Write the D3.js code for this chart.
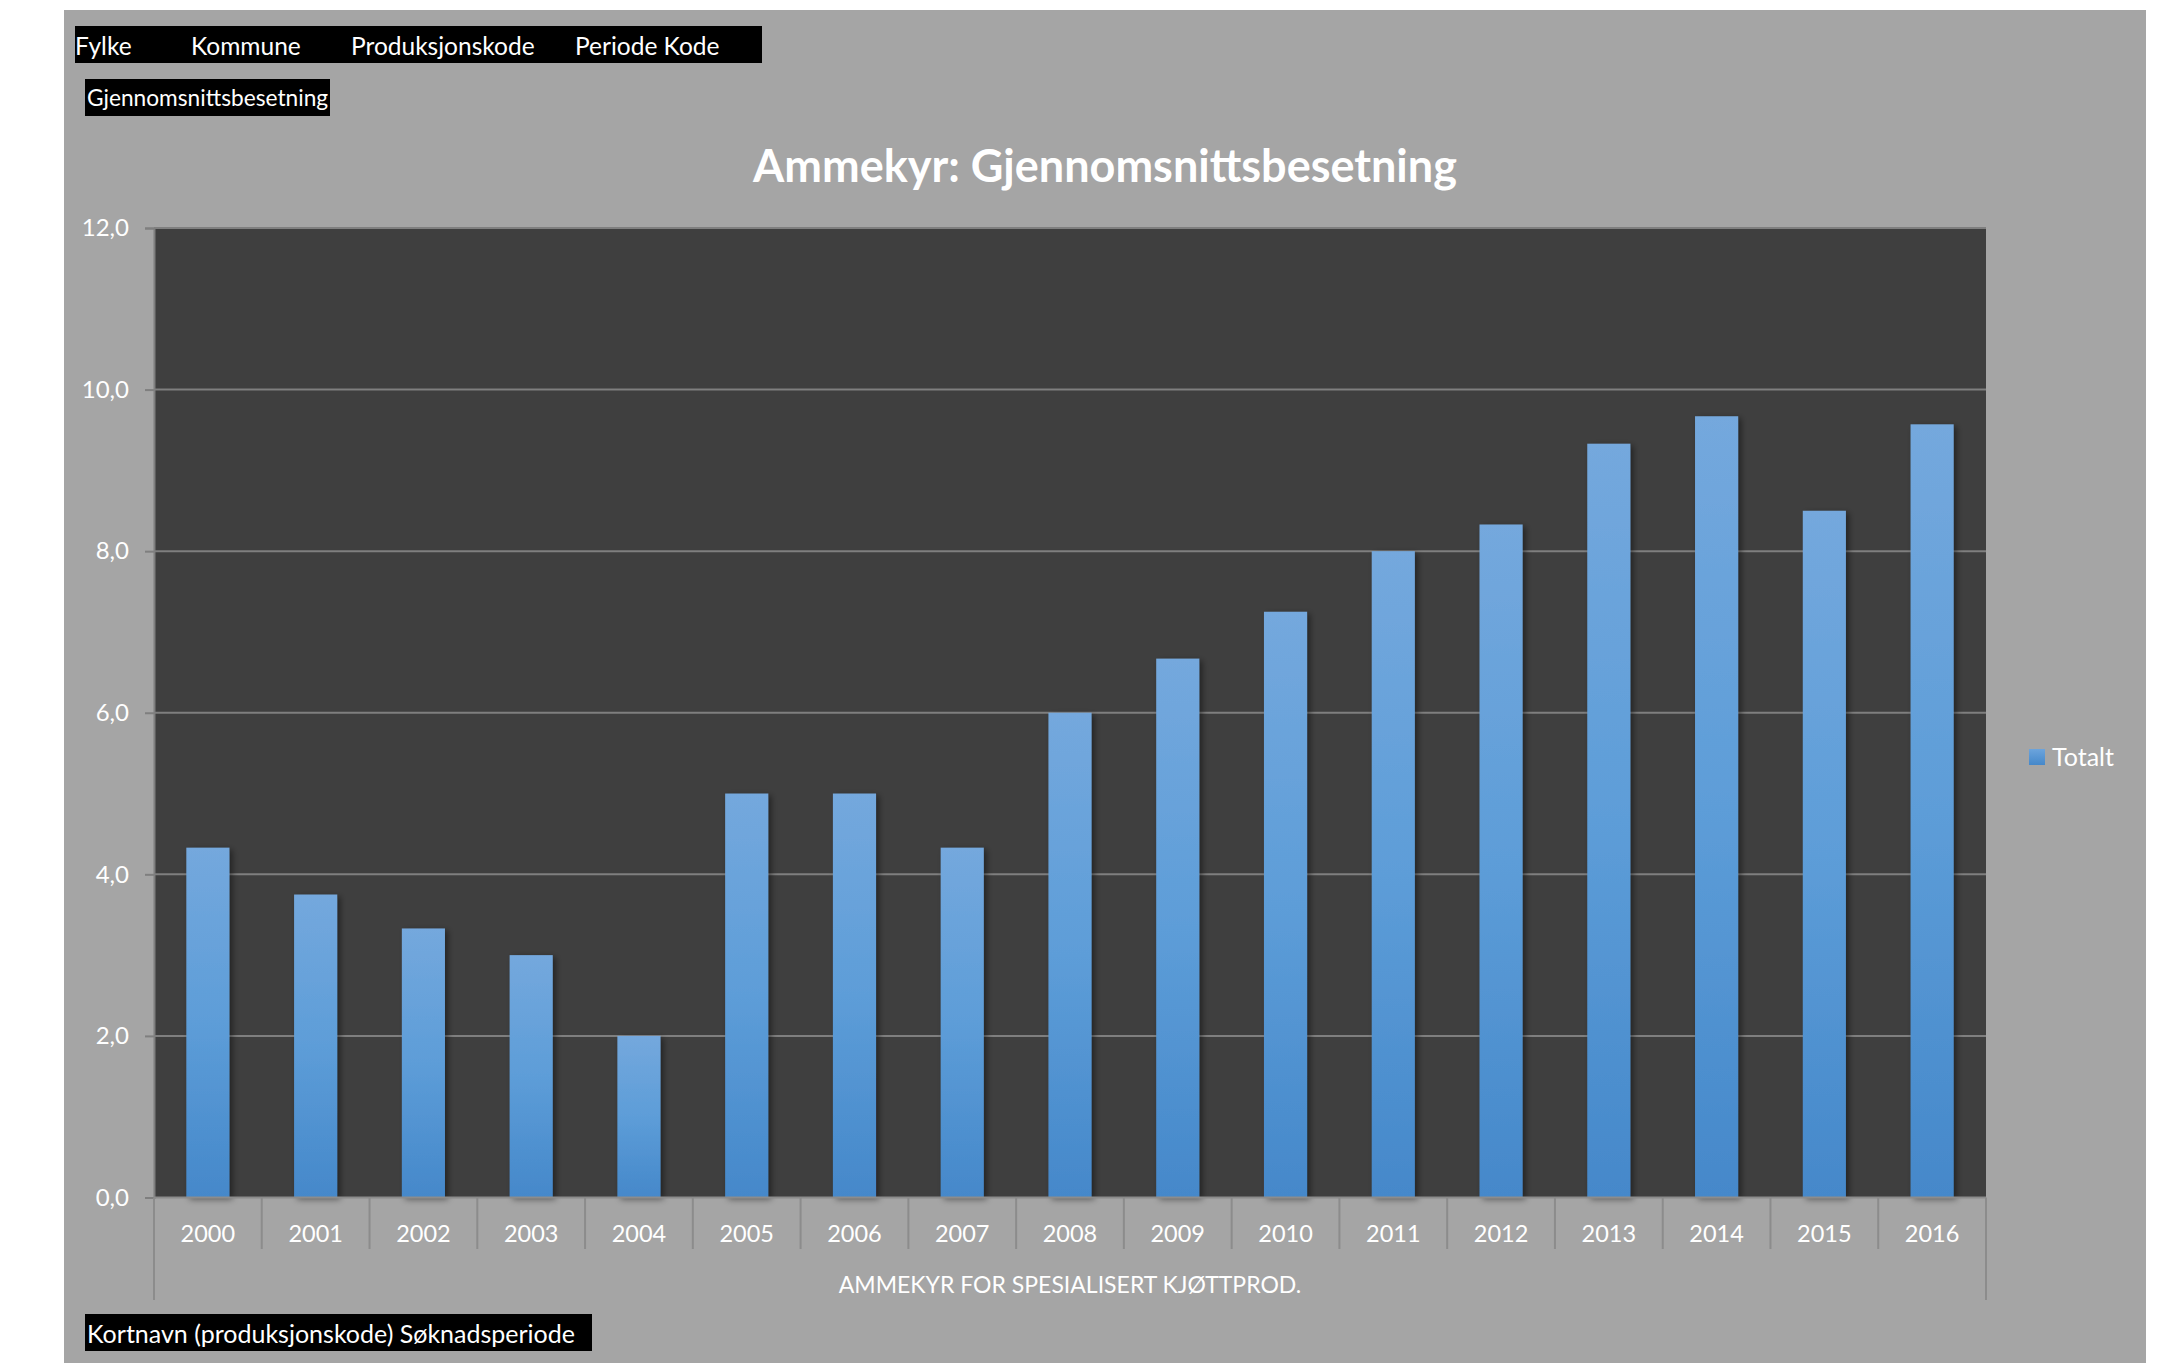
<!DOCTYPE html>
<html>
<head>
<meta charset="utf-8">
<script src="https://cdn.jsdelivr.net/npm/d3@7/dist/d3.min.js"></script>
<style>
  html, body { margin: 0; padding: 0; background: #ffffff; }
  svg { display: block; }
  text { font-family: Lato, "Open Sans", sans-serif; }
</style>
</head>
<body>
<svg id="chart" width="2175" height="1363"></svg>
<script>
// ---- data ----
const years = ["2000","2001","2002","2003","2004","2005","2006","2007","2008","2009","2010","2011","2012","2013","2014","2015","2016"];
const totalt = [4.33, 3.75, 3.33, 3.0, 2.0, 5.0, 5.0, 4.33, 6.0, 6.67, 7.25, 8.0, 8.33, 9.33, 9.67, 8.5, 9.57];
const yTicks = [0, 2, 4, 6, 8, 10, 12];
const headerFields = ["Fylke", "Kommune", "Produksjonskode", "Periode Kode"];
const valueField = "Gjennomsnittsbesetning";
const rowField = "Kortnavn (produksjonskode) Søknadsperiode";
const chartTitle = "Ammekyr: Gjennomsnittsbesetning";
const groupLabel = "AMMEKYR FOR SPESIALISERT KJØTTPROD.";
const seriesName = "Totalt";

// ---- layout ----
const svg = d3.select("#chart");
const area = { x0: 64, y0: 10, x1: 2146, y1: 1363 };
const plot = { left: 154, right: 1986, top: 228, bottom: 1197.5 };

const locale = d3.formatLocale({ decimal: ",", thousands: " ", grouping: [3], currency: ["", " kr"] });
const fmt = locale.format(".1f");

const defs = svg.append("defs");
const grad = defs.append("linearGradient").attr("id", "barGrad")
  .attr("x1", 0).attr("y1", 0).attr("x2", 0).attr("y2", 1);
grad.append("stop").attr("offset", "0%").attr("stop-color", "#74A8DD");
grad.append("stop").attr("offset", "50%").attr("stop-color", "#5D9DD8");
grad.append("stop").attr("offset", "100%").attr("stop-color", "#4588CA");
const lgrad = defs.append("linearGradient").attr("id", "legGrad")
  .attr("x1", 0).attr("y1", 0).attr("x2", 0).attr("y2", 1);
lgrad.append("stop").attr("offset", "0%").attr("stop-color", "#6CA4DC");
lgrad.append("stop").attr("offset", "100%").attr("stop-color", "#4588CA");
const shadow = defs.append("filter").attr("id", "shadow")
  .attr("x", "-30%").attr("y", "-10%").attr("width", "160%").attr("height", "120%");
shadow.append("feDropShadow").attr("dx", 3).attr("dy", 2).attr("stdDeviation", 3)
  .attr("flood-color", "#000").attr("flood-opacity", 0.45);

// chart area background
svg.append("rect")
  .attr("x", area.x0).attr("y", area.y0)
  .attr("width", area.x1 - area.x0).attr("height", area.y1 - area.y0)
  .attr("fill", "#A5A5A5");

// plot background
svg.append("rect")
  .attr("x", plot.left).attr("y", plot.top)
  .attr("width", plot.right - plot.left).attr("height", plot.bottom - plot.top)
  .attr("fill", "#3F3F3F");

// scales
const x = d3.scaleBand().domain(years).range([plot.left, plot.right]).paddingInner(0.6).paddingOuter(0.3);
const xCat = d3.scaleBand().domain(years).range([plot.left, plot.right]).padding(0);
const y = d3.scaleLinear().domain([0, 12]).range([plot.bottom, plot.top]);

// gridlines
svg.append("g").selectAll("line").data(yTicks.filter(d => d > 0)).join("line")
  .attr("x1", plot.left).attr("x2", plot.right)
  .attr("y1", d => y(d)).attr("y2", d => y(d))
  .attr("stroke", "#7F7F7F").attr("stroke-width", 2);

// bars
svg.append("g").selectAll("rect").data(years).join("rect")
  .attr("x", d => x(d))
  .attr("y", (d, i) => y(totalt[i]))
  .attr("width", x.bandwidth())
  .attr("height", (d, i) => y(0) - y(totalt[i]))
  .attr("fill", "url(#barGrad)")
  .attr("filter", "url(#shadow)");

// y axis
const yAxis = svg.append("g").attr("transform", `translate(${plot.left},0)`)
  .call(d3.axisLeft(y).tickValues(yTicks).tickFormat(fmt).tickSize(9).tickPadding(16));
yAxis.select(".domain").attr("stroke", "#7F7F7F").attr("stroke-width", 2);
yAxis.selectAll(".tick line").attr("stroke", "#7F7F7F").attr("stroke-width", 2);
yAxis.selectAll(".tick text").attr("fill", "#FFFFFF").attr("font-size", 24)
  .attr("font-family", "Lato, sans-serif");

// x axis line
svg.append("line")
  .attr("x1", plot.left).attr("x2", plot.right)
  .attr("y1", y(0)).attr("y2", y(0))
  .attr("stroke", "#8C8C8C").attr("stroke-width", 2);

// category separators
const seps = years.map(d => xCat(d)).concat([plot.right]);
svg.append("g").selectAll("line").data(seps).join("line")
  .attr("x1", d => d).attr("x2", d => d)
  .attr("y1", y(0)).attr("y2", (d, i) => (i === 0 || i === seps.length - 1) ? 1300 : 1249)
  .attr("stroke", "#8C8C8C").attr("stroke-width", 2);

// x tick labels
svg.append("g").selectAll("text").data(years).join("text")
  .attr("x", d => xCat(d) + xCat.bandwidth() / 2)
  .attr("y", 1242)
  .attr("text-anchor", "middle")
  .attr("fill", "#FFFFFF").attr("font-size", 23.5)
  .text(d => d);

// group label
svg.append("text")
  .attr("x", (plot.left + plot.right) / 2).attr("y", 1293)
  .attr("text-anchor", "middle")
  .attr("fill", "#FFFFFF").attr("font-size", 23)
  .text(groupLabel);

// title
svg.append("text")
  .attr("x", (area.x0 + area.x1) / 2).attr("y", 182)
  .attr("text-anchor", "middle")
  .attr("fill", "#FFFFFF").attr("font-size", 45).attr("font-weight", "bold")
  .text(chartTitle);

// legend
svg.append("rect").attr("x", 2029).attr("y", 749).attr("width", 16).attr("height", 16)
  .attr("fill", "url(#legGrad)");
svg.append("text").attr("x", 2052).attr("y", 766)
  .attr("fill", "#FFFFFF").attr("font-size", 25).text(seriesName);

// pivot field buttons
svg.append("rect").attr("x", 75).attr("y", 26).attr("width", 687).attr("height", 37).attr("fill", "#000");
const headerX = [75, 191, 351, 575];
svg.append("g").selectAll("text").data(headerFields).join("text")
  .attr("x", (d, i) => headerX[i]).attr("y", 55)
  .attr("fill", "#FFFFFF").attr("font-size", 24.5)
  .text(d => d);

svg.append("rect").attr("x", 85).attr("y", 79).attr("width", 245).attr("height", 37).attr("fill", "#000");
svg.append("text").attr("x", 87).attr("y", 106)
  .attr("fill", "#FFFFFF").attr("font-size", 22.7).text(valueField);

svg.append("rect").attr("x", 85).attr("y", 1314).attr("width", 507).attr("height", 37).attr("fill", "#000");
svg.append("text").attr("x", 87).attr("y", 1343)
  .attr("fill", "#FFFFFF").attr("font-size", 25).text(rowField);
</script>
</body>
</html>
